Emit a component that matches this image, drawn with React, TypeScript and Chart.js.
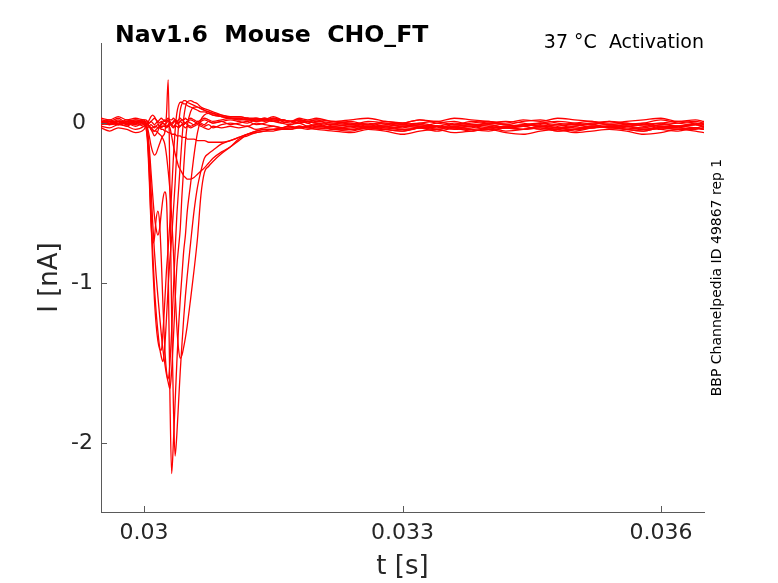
import React, { useEffect, useRef } from "react";
import { Chart, registerables } from "chart.js";

Chart.register(...registerables);

// ---- data ----
const timeS = [
  0.0295, 0.0296, 0.0297, 0.0298, 0.0299, 0.03,
  0.03002, 0.03004, 0.03006, 0.03008, 0.0301, 0.03012, 0.03014, 0.03016, 0.03018, 0.0302, 0.03022, 0.03024, 0.03026, 0.03028, 0.0303, 0.03032, 0.03034, 0.03036, 0.03038, 0.0304, 0.03042, 0.03044, 0.03046, 0.03048, 0.0305,
  0.03054, 0.03058, 0.03062, 0.03066, 0.0307, 0.03075, 0.0308, 0.0309, 0.031,
  0.0311, 0.0312, 0.0313, 0.0314, 0.0315, 0.0316, 0.0317, 0.0318, 0.0319, 0.032,
  0.0322, 0.0324, 0.0326, 0.0328, 0.033, 0.0332, 0.0334, 0.0336, 0.0338, 0.034, 0.0342, 0.0344, 0.0346, 0.0348, 0.035, 0.0352, 0.0354, 0.0356, 0.0358, 0.036, 0.0362, 0.0364, 0.0365,
];

const traceN1 = [
  0.02, 0.01, 0.03, 0.0, 0.02, 0.01,
  0.01, 0.0, -0.02, -0.04, -0.06, -0.08, -0.07, -0.05, -0.02, 0.0, 0.01, 0.02, 0.01, 0.02, 0.01, 0.0, 0.01, 0.02, 0.01, 0.0, 0.01, 0.02, 0.01, 0.0, 0.01,
  0.02, 0.01, 0.0, 0.01, 0.02, 0.01, 0.0, 0.01, 0.02,
  0.01, 0.0, 0.02, 0.01, 0.03, 0.01, 0.0, 0.02, 0.01, 0.0,
  0.0, 0.01, -0.01, 0.0, -0.02, 0.0, 0.01, -0.01, 0.0, 0.01, -0.01, -0.02, 0.0, 0.01, 0.0, -0.01, 0.01, 0.0, -0.01, 0.0, 0.01, 0.0, -0.01,
];
const traceN2 = [
  -0.02, -0.03, -0.01, -0.02, -0.04, -0.02,
  -0.01, 0.0, 0.02, 0.04, 0.05, 0.04, 0.02, 0.0, -0.02, -0.01, 0.0, -0.01, -0.02, -0.01, 0.0, -0.01, -0.02, -0.01, 0.0, -0.01, -0.02, -0.01, -0.01, 0.0, -0.01,
  -0.02, -0.01, 0.0, -0.01, -0.02, -0.01, -0.03, -0.01, 0.0,
  -0.01, -0.02, 0.0, -0.01, -0.02, -0.03, -0.01, 0.0, -0.02, -0.01,
  -0.04, -0.03, -0.02, -0.04, -0.05, -0.03, -0.02, -0.03, -0.04, -0.03, -0.05, -0.04, -0.02, -0.03, -0.04, -0.03, -0.02, -0.04, -0.05, -0.03, -0.04, -0.03, -0.02,
];
const traceN3 = [
  0.0, 0.02, -0.01, 0.01, 0.0, 0.02,
  0.0, -0.01, 0.0, 0.01, 0.0, -0.01, 0.0, 0.01, 0.0, 0.01, 0.0, -0.01, 0.0, 0.01, 0.0, -0.01, 0.0, 0.01, 0.0, 0.0, 0.01, 0.0, -0.01, 0.0, 0.01,
  0.0, -0.01, 0.01, 0.0, -0.01, 0.01, 0.0, 0.01, -0.01,
  0.0, 0.01, -0.01, 0.0, 0.02, 0.0, -0.01, 0.01, 0.0, -0.02,
  -0.02, -0.01, -0.03, -0.02, -0.01, 0.0, -0.02, -0.03, -0.02, -0.01, -0.03, -0.02, 0.0, -0.01, -0.03, -0.02, -0.01, -0.02, -0.03, -0.01, -0.02, 0.0, -0.01,
];
const traceN4 = [
  -0.03, -0.05, -0.03, -0.04, -0.06, -0.04,
  -0.02, -0.03, -0.02, -0.01, -0.02, -0.03, -0.02, -0.01, -0.02, -0.03, -0.02, -0.02, -0.03, -0.02, -0.01, -0.02, -0.03, -0.02, -0.02, -0.03, -0.02, -0.01, -0.02, -0.03, -0.02,
  -0.03, -0.02, -0.01, -0.02, -0.03, -0.04, -0.02, -0.03, -0.02,
  -0.03, -0.02, -0.04, -0.03, -0.02, -0.03, -0.04, -0.02, -0.03, -0.04,
  -0.05, -0.06, -0.04, -0.05, -0.07, -0.05, -0.04, -0.06, -0.05, -0.04, -0.06, -0.07, -0.05, -0.04, -0.06, -0.05, -0.04, -0.05, -0.07, -0.06, -0.04, -0.05, -0.06,
];
const traceN5 = [
  0.03, 0.02, 0.04, 0.02, 0.03, 0.02,
  0.02, 0.01, 0.0, 0.01, 0.02, 0.03, 0.02, 0.01, 0.02, 0.03, 0.02, 0.01, 0.02, 0.03, 0.02, 0.02, 0.03, 0.02, 0.01, 0.02, 0.03, 0.02, 0.02, 0.03, 0.02,
  0.03, 0.02, 0.01, 0.02, 0.03, 0.02, 0.01, 0.02, 0.03,
  0.02, 0.03, 0.01, 0.02, 0.04, 0.02, 0.01, 0.03, 0.02, 0.03,
  0.01, 0.02, 0.03, 0.01, 0.0, 0.02, 0.01, 0.03, 0.02, 0.01, 0.0, 0.02, 0.01, 0.03, 0.02, 0.01, 0.0, 0.01, 0.02, 0.03, 0.01, 0.02, 0.01,
];
const traceT5 = [
  0.01, 0.0, 0.02, -0.01, 0.01, 0.0,
  0.0, -0.01, -0.02, -0.03, -0.03, -0.02, -0.02, -0.03, -0.03, -0.04, -0.04, -0.05, -0.05, -0.06, -0.06, -0.07, -0.07, -0.07, -0.08, -0.08, -0.08, -0.09, -0.09, -0.09, -0.1,
  -0.1, -0.1, -0.11, -0.11, -0.11, -0.12, -0.12, -0.12, -0.11,
  -0.09, -0.07, -0.06, -0.05, -0.04, -0.04, -0.03, -0.03, -0.02, -0.03,
  -0.04, -0.05, -0.03, -0.04, -0.05, -0.03, -0.04, -0.02, -0.04, -0.05, -0.03, -0.04, -0.03, -0.05, -0.04, -0.02, -0.03, -0.04, -0.05, -0.03, -0.04, -0.03, -0.04,
];
const traceT6 = [
  0.0, 0.01, -0.01, 0.01, 0.0, 0.01,
  0.0, -0.01, -0.02, -0.04, -0.05, -0.05, -0.04, -0.03, -0.02, -0.02, -0.02, -0.02, -0.02, -0.02, -0.03, -0.08, -0.14, -0.19, -0.23, -0.27, -0.29, -0.31, -0.33, -0.34, -0.35,
  -0.35, -0.34, -0.32, -0.3, -0.28, -0.25, -0.22, -0.18, -0.15,
  -0.1, -0.08, -0.06, -0.05, -0.05, -0.04, -0.04, -0.03, -0.04, -0.03,
  -0.03, -0.04, -0.03, -0.02, -0.04, -0.03, -0.02, -0.03, -0.05, -0.03, -0.02, -0.04, -0.03, -0.05, -0.04, -0.03, -0.02, -0.04, -0.03, -0.04, -0.05, -0.03, -0.04,
];
const traceB1 = [
  0.01, -0.01, 0.0, 0.02, 0.0, 0.01,
  -0.02, -0.1, -0.3, -0.6, -0.88, -1.1, -1.26, -1.36, -1.41, -1.42, -1.3, -1.12, -0.92, -0.78, -0.62, -0.43, -0.22, -0.05, 0.06, 0.11, 0.13, 0.13, 0.12, 0.12, 0.11,
  0.1, 0.09, 0.08, 0.07, 0.07, 0.06, 0.05, 0.04, 0.03,
  0.03, 0.02, 0.02, 0.03, 0.01, 0.02, 0.01, 0.02, 0.0, 0.01,
  0.0, -0.01, 0.01, 0.0, -0.01, -0.02, 0.0, 0.01, -0.01, 0.0, 0.01, 0.0, -0.02, -0.01, 0.0, 0.01, -0.01, 0.0, -0.02, -0.01, 0.0, 0.01, 0.0,
];
const traceB2 = [
  -0.01, 0.01, 0.0, -0.02, 0.01, 0.0,
  -0.01, -0.08, -0.25, -0.52, -0.8, -1.02, -1.18, -1.3, -1.4, -1.46, -1.49, -1.4, -1.22, -1.02, -0.85, -0.72, -0.55, -0.38, -0.18, -0.02, 0.08, 0.12, 0.14, 0.14, 0.13,
  0.12, 0.11, 0.1, 0.09, 0.08, 0.07, 0.06, 0.05, 0.04,
  0.04, 0.03, 0.03, 0.02, 0.03, 0.02, 0.01, 0.02, 0.01, 0.02,
  0.01, 0.0, -0.01, 0.01, 0.0, 0.02, 0.0, -0.01, 0.01, 0.0, -0.01, 0.01, 0.02, 0.0, -0.01, 0.0, 0.01, -0.01, 0.0, 0.02, 0.0, -0.01, 0.0,
];
const traceB3 = [
  0.0, -0.01, 0.01, 0.0, -0.02, 0.0,
  -0.02, -0.12, -0.35, -0.62, -0.75, -0.72, -0.6, -0.55, -0.62, -0.85, -1.15, -1.4, -1.55, -1.6, -1.5, -1.3, -1.05, -0.8, -0.58, -0.42, -0.26, -0.1, 0.03, 0.1, 0.13,
  0.14, 0.13, 0.12, 0.1, 0.09, 0.08, 0.07, 0.05, 0.04,
  0.04, 0.03, 0.02, 0.03, 0.02, 0.02, 0.01, 0.02, 0.01, 0.0,
  -0.01, 0.0, -0.02, -0.01, 0.0, -0.02, -0.03, -0.01, -0.02, 0.0, -0.01, -0.02, -0.01, -0.03, -0.02, 0.0, -0.01, -0.02, -0.01, 0.0, -0.02, -0.01, -0.02,
];
const traceB3b = [
  0.01, 0.0, -0.01, 0.01, 0.02, 0.0,
  -0.01, -0.06, -0.2, -0.4, -0.62, -0.8, -0.95, -1.08, -1.2, -1.32, -1.42, -1.5, -1.57, -1.62, -1.66, -1.55, -1.35, -1.12, -0.9, -0.78, -0.66, -0.45, -0.28, -0.12, -0.02,
  0.07, 0.1, 0.1, 0.09, 0.08, 0.07, 0.06, 0.04, 0.03,
  0.03, 0.02, 0.03, 0.02, 0.01, 0.02, 0.01, 0.0, 0.01, 0.02,
  -0.02, -0.01, 0.0, -0.02, -0.03, -0.01, -0.02, 0.0, -0.01, -0.03, -0.02, -0.01, 0.0, -0.02, -0.01, -0.03, -0.02, -0.01, 0.0, -0.02, -0.03, -0.01, -0.02,
];
const traceB4 = [
  -0.01, 0.0, 0.01, -0.01, 0.0, -0.02,
  -0.01, -0.05, -0.15, -0.3, -0.45, -0.58, -0.66, -0.7, -0.66, -0.56, -0.47, -0.43, -0.48, -0.9, -1.7, -2.19, -2.0, -1.75, -1.5, -1.28, -1.1, -0.95, -0.8, -0.7, -0.56,
  -0.38, -0.2, -0.06, 0.02, 0.05, 0.06, 0.05, 0.04, 0.03,
  0.02, 0.02, 0.01, 0.02, 0.01, 0.0, 0.01, 0.0, 0.01, 0.0,
  -0.03, -0.02, -0.01, -0.03, -0.02, -0.01, -0.04, -0.02, -0.01, -0.02, -0.03, -0.01, -0.02, -0.04, -0.02, -0.01, -0.03, -0.02, -0.01, -0.03, -0.02, -0.01, -0.03,
];
const traceB5 = [
  0.0, 0.01, -0.01, 0.0, 0.01, -0.01,
  0.0, -0.03, -0.08, -0.14, -0.18, -0.2, -0.19, -0.16, -0.13, -0.1, -0.08, -0.06, 0.05, 0.27, -0.4, -1.2, -1.75, -2.08, -1.95, -1.75, -1.55, -1.38, -1.22, -1.08, -0.96,
  -0.75, -0.55, -0.4, -0.3, -0.22, -0.19, -0.17, -0.13, -0.11,
  -0.09, -0.07, -0.05, -0.04, -0.04, -0.03, -0.03, -0.02, -0.03, -0.02,
  -0.03, -0.04, -0.02, -0.03, -0.04, -0.03, -0.02, -0.04, -0.03, -0.01, -0.03, -0.04, -0.02, -0.03, -0.04, -0.02, -0.03, -0.02, -0.04, -0.03, -0.02, -0.03, -0.04,
];
const traceB6 = [
  0.0, -0.01, 0.01, 0.0, -0.01, 0.01,
  0.0, -0.01, -0.02, -0.03, -0.04, -0.05, -0.05, -0.06, -0.07, -0.08, -0.1, -0.13, -0.2, -0.3, -0.42, -0.58, -0.8, -1.05, -1.27, -1.41, -1.47, -1.45, -1.4, -1.34, -1.27,
  -1.1, -0.92, -0.72, -0.45, -0.31, -0.27, -0.24, -0.19, -0.15,
  -0.11, -0.07, -0.05, -0.04, -0.04, -0.03, -0.02, -0.03, -0.02, -0.01,
  -0.04, -0.02, -0.03, -0.04, -0.02, -0.03, -0.05, -0.03, -0.02, -0.04, -0.03, -0.02, -0.04, -0.03, -0.05, -0.03, -0.02, -0.03, -0.04, -0.02, -0.03, -0.04, -0.03,
];

const traces = [
  traceN1, traceN2, traceN3, traceN4, traceN5, traceT5, traceT6,
  traceB1, traceB2, traceB3, traceB3b, traceB4, traceB5, traceB6,
];

const xTickValues = [0.03, 0.033, 0.036];
const xTickLabels = ["0.03", "0.033", "0.036"];
const yTickValues = [-2, -1, 0];
const yTickLabels = ["-2", "-1", "0 "];

const titleText = "Nav1.6  Mouse  CHO_FT";
const conditionText = "37 °C  Activation";
const sideText = "BBP Channelpedia ID 49867 rep 1";
const xAxisTitle = "t [s]";
const yAxisTitle = "I [nA]";

const FONT = "'DejaVu Sans', 'Liberation Sans', sans-serif";
const AXIS_COLOR = "#5a5a5a";
const TEXT_COLOR = "#262626";

const decorPlugin = {
  id: "decor",
  afterDraw(chart: any) {
    const { ctx, chartArea, scales } = chart;
    ctx.save();
    // inward tick marks (MATLAB style)
    ctx.strokeStyle = AXIS_COLOR;
    ctx.lineWidth = 1;
    xTickValues.forEach((v) => {
      const px = Math.round(scales.x.getPixelForValue(v)) + 0.5;
      ctx.beginPath();
      ctx.moveTo(px, chartArea.bottom);
      ctx.lineTo(px, chartArea.bottom - 6);
      ctx.stroke();
    });
    yTickValues.forEach((v) => {
      const py = Math.round(scales.y.getPixelForValue(v)) + 0.5;
      ctx.beginPath();
      ctx.moveTo(chartArea.left, py);
      ctx.lineTo(chartArea.left + 6, py);
      ctx.stroke();
    });
    // title texts
    ctx.fillStyle = "#000";
    ctx.textBaseline = "alphabetic";
    ctx.font = `bold 23.6px ${FONT}`;
    ctx.textAlign = "left";
    ctx.fillText(titleText, chartArea.left + 14, 42);
    ctx.font = `19px ${FONT}`;
    ctx.textAlign = "right";
    ctx.fillText(conditionText, chartArea.right, 48);
    // vertical side text
    ctx.translate(chartArea.right + 17, (chartArea.top + chartArea.bottom) / 2);
    ctx.rotate(-Math.PI / 2);
    ctx.font = `14px ${FONT}`;
    ctx.textAlign = "center";
    ctx.fillText(sideText, 0, 0);
    ctx.restore();
  },
};

export default function App() {
  const canvasRef = useRef<HTMLCanvasElement | null>(null);

  useEffect(() => {
    const canvas = canvasRef.current;
    if (!canvas) return;
    const datasets = traces.map((vals, k) => ({
      label: `trace ${k + 1}`,
      data: timeS.map((t, i) => ({ x: t, y: vals[i] })),
      borderColor: "rgb(255,0,0)",
      backgroundColor: "rgb(255,0,0)",
      borderWidth: 1.3,
      pointRadius: 0,
      cubicInterpolationMode: "monotone" as const,
      fill: false,
    }));

    const chart = new Chart(canvas, {
      type: "line",
      data: { datasets },
      plugins: [decorPlugin],
      options: {
        animation: false,
        responsive: false,
        events: [],
        layout: { padding: { top: 43, right: 74, left: 0, bottom: 0 } },
        plugins: {
          legend: { display: false },
          tooltip: { enabled: false },
          title: { display: false },
        },
        scales: {
          x: {
            type: "linear",
            min: 0.0295,
            max: 0.0365,
            afterBuildTicks: (axis: any) => {
              axis.ticks = xTickValues.map((value) => ({ value }));
            },
            afterFit: (axis: any) => {
              axis.height = 71;
            },
            ticks: {
              autoSkip: false,
              maxRotation: 0,
              padding: 8,
              color: TEXT_COLOR,
              font: { family: FONT, size: 22 },
              callback: (_v: any, i: number) => xTickLabels[i],
            },
            grid: { display: true, drawOnChartArea: false, drawTicks: false },
            border: { display: true, color: AXIS_COLOR, width: 1 },
            title: {
              display: true,
              text: xAxisTitle,
              color: TEXT_COLOR,
              font: { family: FONT, size: 26 },
              padding: { top: 0, bottom: 0 },
            },
          },
          y: {
            type: "linear",
            min: -2.43,
            max: 0.5,
            afterBuildTicks: (axis: any) => {
              axis.ticks = yTickValues.map((value) => ({ value }));
            },
            afterFit: (axis: any) => {
              axis.width = 101;
            },
            ticks: {
              autoSkip: false,
              padding: 8,
              color: TEXT_COLOR,
              font: { family: FONT, size: 22 },
              callback: (_v: any, i: number) => yTickLabels[i],
            },
            grid: { display: true, drawOnChartArea: false, drawTicks: false },
            border: { display: true, color: AXIS_COLOR, width: 1 },
            title: {
              display: true,
              text: yAxisTitle,
              color: TEXT_COLOR,
              font: { family: FONT, size: 26 },
              padding: { top: 35, bottom: 0 },
            },
          },
        },
      },
    });
    return () => chart.destroy();
  }, []);

  return (
    <div style={{ position: "absolute", left: 0, top: 0, width: 778, height: 583, background: "#fff" }}>
      <canvas ref={canvasRef} width={778} height={583} style={{ width: 778, height: 583, display: "block" }} />
    </div>
  );
}
